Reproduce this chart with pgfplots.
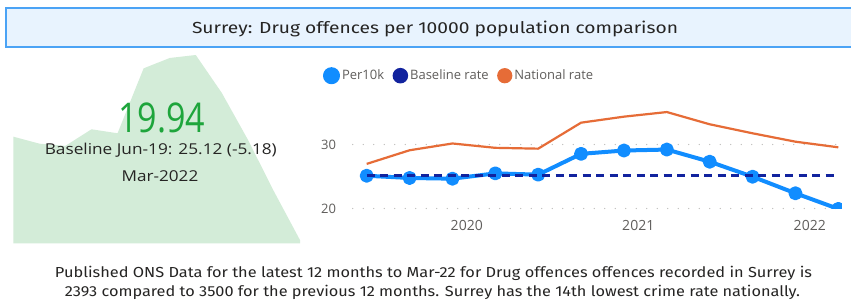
\documentclass[border=0pt]{standalone}
\usepackage{fontspec}
\setmainfont{Open Sans}
\newfontfamily\dinfont{Fira Sans}
\usepackage{graphicx}
\usepackage{pgfplots}
\pgfplotsset{compat=1.18}
\definecolor{per}{HTML}{118DFF}
\definecolor{base}{HTML}{12239E}
\definecolor{nat}{HTML}{E66C37}
\definecolor{kpi}{HTML}{1EA53C}
\definecolor{areac}{HTML}{D3ECD8}
\definecolor{txt}{HTML}{252423}
\definecolor{axtxt}{HTML}{605E5C}
\definecolor{titlefill}{HTML}{E8F3FE}
\definecolor{titledraw}{HTML}{4BA3F5}
\definecolor{gridc}{HTML}{B8B6B4}

\pgfplotstableread{
m per nat
0  25.12 26.97
3  24.77 29.10
6  24.66 30.16
9  25.49 29.48
12 25.29 29.35
15 28.54 33.41
18 29.06 34.35
21 29.21 35.07
24 27.31 33.16
27 24.97 31.75
30 22.38 30.44
33 19.94 29.56
}\data
\pgfplotstableread{
i v
0  25.12
1  24.77
2  24.66
3  25.49
4  25.29
5  28.54
6  29.06
7  29.21
8  27.31
9  24.97
10 22.38
11 19.94
}\spark
\pgfplotstableread{
m v
0  25.12
33 25.12
}\baseline

\begin{document}
\begin{tikzpicture}[x=1pt,y=1pt]
\path[use as bounding box] (0,0) rectangle (851,302);
\fill[white] (0,0) rectangle (851,302);
% title box
\draw[titledraw, fill=titlefill, line width=1.3pt] (6,255) rectangle (870,294);
\node[anchor=base, inner sep=0, text=txt] at (435,268.5) {\resizebox{486pt}{\height}{\dinfont\fontsize{16}{19}\selectfont Surrey: Drug offences per 10000 population comparison}};

% sparkline area
\begin{axis}[at={(13.3pt,58.7pt)}, anchor=south west, scale only axis,
  width=286.7pt, height=188.3pt, xmin=0, xmax=11, ymin=19.78, ymax=29.21,
  hide axis, clip=true]
\addplot[draw=none, fill=areac] table[x=i, y=v] {\spark} \closedcycle;
\end{axis}

% KPI text
\node[anchor=base, inner sep=0, text=kpi] at (161.7,169.3) {\resizebox{87pt}{\height}{\fontsize{41}{45}\selectfont 19.94}};
\node[anchor=base, inner sep=0, text=txt] at (160.8,147) {\resizebox{232pt}{\height}{\fontsize{15}{18}\selectfont Baseline Jun-19: 25.12 (-5.18)}};
\node[anchor=base, inner sep=0, text=txt] at (160,120.3) {\resizebox{76.6pt}{\height}{\fontsize{15}{18}\selectfont Mar-2022}};

% main chart
\begin{axis}[at={(352.7pt,93.1pt)}, anchor=south west, scale only axis,
  width=489.2pt, height=109.2pt,
  xmin=-0.98, xmax=33.25, ymin=19.94, ymax=37,
  axis line style={draw=none}, major tick length=0pt,
  xtick={7,19,31}, xticklabels={2020,2021,2022},
  ytick={20,30},
  ymajorgrids, grid style={gridc, line width=1.3pt, line cap=round, dash pattern=on 0pt off 10.5pt},
  /pgf/number format/assume math mode=true,
  tick label style={text=axtxt},
  xticklabel style={font=\fontsize{14}{16}\selectfont, anchor=center, inner sep=0pt, yshift=-17pt},
  yticklabel style={font=\fontsize{13}{15}\selectfont, anchor=east, inner sep=0pt, xshift=-16.5pt},
  clip marker paths=true,
  legend columns=-1,
  legend image code/.code={\fill[solid] (6.5pt,0pt) circle (6.5pt);},
  legend style={at={(-0.0611,1.2198)}, anchor=west, draw=none, fill=none, inner sep=0pt,
    nodes={inner sep=0pt, text=axtxt, font=\fontsize{13}{15}\selectfont},
    /tikz/every odd column/.style={column sep=2pt},
    /tikz/every even column/.style={column sep=8.5pt}},
]
\addplot[per, line width=4pt, line join=round, mark=*, mark size=5pt, mark options={solid, fill=per, draw=none}] table[x=m, y=per] {\data};
\addlegendentry{Per10k}
\addplot[base, line width=2.5pt, dash pattern=on 8pt off 5.5pt] table[x=m, y=v] {\baseline};
\addlegendentry{Baseline rate}
\addplot[nat, line width=2.2pt, line join=round] table[x=m, y=nat] {\data};
\addlegendentry{National rate}
\end{axis}

% footer text
\node[anchor=base, inner sep=0, text=txt] at (433.5,24) {\resizebox{757pt}{\height}{\dinfont\fontsize{14.5}{17}\selectfont Published ONS Data for the latest 12 months to Mar-22 for Drug offences offences recorded in Surrey is}};
\node[anchor=base, inner sep=0, text=txt] at (432.5,5) {\resizebox{735pt}{\height}{\dinfont\fontsize{14.5}{17}\selectfont 2393 compared to 3500 for the previous 12 months. Surrey has the 14th lowest crime rate nationally.}};
\end{tikzpicture}
\end{document}
